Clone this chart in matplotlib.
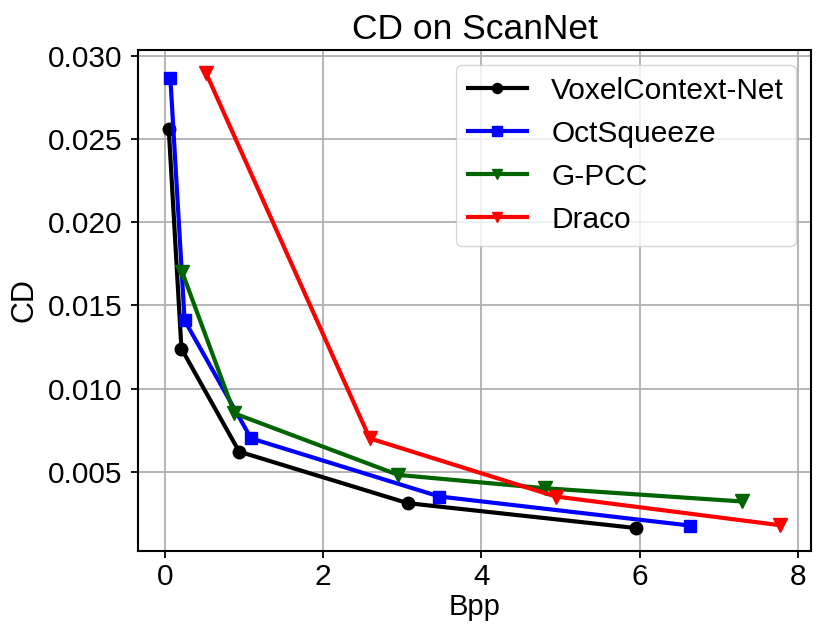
import matplotlib
matplotlib.use('Agg')
import matplotlib.pyplot as plt

plt.rcParams['font.family'] = ['Liberation Sans', 'DejaVu Sans']

# Bpp / CD values
voxel_bpp = [0.05, 0.21, 0.94, 3.07, 5.96]
voxel_cd = [0.0256, 0.0124, 0.0062, 0.0031, 0.0016]

oct_bpp = [0.07, 0.25, 1.09, 3.47, 6.64]
oct_cd = [0.0287, 0.0141, 0.0070, 0.0035, 0.00175]

gpcc_bpp = [0.22, 0.88, 2.95, 4.80, 7.30]
gpcc_cd = [0.0170, 0.0085, 0.0048, 0.0040, 0.0032]

draco_bpp = [0.52, 2.59, 4.94, 7.78]
draco_cd = [0.0290, 0.0070, 0.0035, 0.00177]

fig = plt.figure(figsize=(8.3, 6.42), dpi=100)
ax = fig.add_axes([0.1665, 0.142, 0.8105, 0.780])

ax.plot(voxel_bpp, voxel_cd, 'o-', color='black', lw=3, ms=9, label='VoxelContext-Net')
ax.plot(oct_bpp, oct_cd, 's-', color='blue', lw=3, ms=8.5, label='OctSqueeze')
ax.plot(gpcc_bpp, gpcc_cd, 'v-', color='darkgreen', lw=3, ms=9.5, label='G-PCC')
ax.plot(draco_bpp, draco_cd, 'v-', color='red', lw=3, ms=9.5, label='Draco')

ax.grid(True, color='#b0b0b0', lw=1.3)
ax.set_xticks([0, 2, 4, 6, 8])
ax.set_yticks([0.005, 0.010, 0.015, 0.020, 0.025, 0.030])
ax.tick_params(labelsize=21.5, width=1.3, length=5)
ax.tick_params(axis='y', pad=6.5)
for s in ax.spines.values():
    s.set_linewidth(1.5)

ax.set_xlabel('Bpp', fontsize=21, labelpad=2)
ax.set_ylabel('CD', fontsize=22, labelpad=6)
ax.set_title('CD on ScanNet', fontsize=25.5, pad=8)
ax.legend(fontsize=21.5, markerscale=0.8, loc='upper right')

fig.savefig('out.png', dpi=100)
